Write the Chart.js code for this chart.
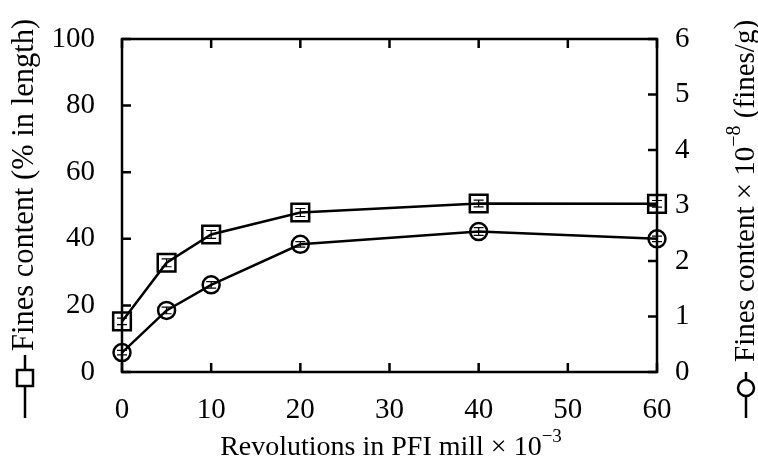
<!DOCTYPE html>
<html>
<head>
<meta charset="utf-8">
<script src="https://cdn.jsdelivr.net/npm/chart.js@4.4.1/dist/chart.umd.min.js"></script>
<style>
html,body{margin:0;padding:0;background:#fff;}
#wrap{width:758px;height:465px;position:relative;}
</style>
</head>
<body>
<div id="wrap"><canvas id="c" width="758" height="465"></canvas></div>
<script>
// Data
const revolutions = [0, 5, 10, 20, 40, 60];
const finesPercent = [15.2, 32.8, 41.3, 47.9, 50.6, 50.5];
const finesPercentErr = [1.0, 1.2, 1.2, 1.2, 1.0, 1.0];
const finesPerGram = [0.35, 1.11, 1.57, 2.30, 2.53, 2.40];
const finesPerGramErr = [0.04, 0.06, 0.06, 0.05, 0.07, 0.05];
const xTicks = [0, 10, 20, 30, 40, 50, 60];
const yLeftTicks = [0, 20, 40, 60, 80, 100];
const yRightTicks = [0, 1, 2, 3, 4, 5, 6];

const FONT = "'Liberation Serif', 'Times New Roman', serif";

const framePlugin = {
  id: 'frame',
  afterDatasetsDraw(chart) {
    const ctx = chart.ctx, a = chart.chartArea;
    const sx = chart.scales.x, sy = chart.scales.y, sy2 = chart.scales.y2;
    ctx.save();
    ctx.strokeStyle = '#000';
    ctx.lineWidth = 2.5;
    ctx.strokeRect(a.left, a.top, a.right - a.left, a.bottom - a.top);
    const L = 9;
    ctx.beginPath();
    xTicks.forEach(v => {
      const px = sx.getPixelForValue(v);
      ctx.moveTo(px, a.bottom); ctx.lineTo(px, a.bottom - L);
      ctx.moveTo(px, a.top); ctx.lineTo(px, a.top + L);
    });
    yLeftTicks.forEach(v => {
      const py = sy.getPixelForValue(v);
      ctx.moveTo(a.left, py); ctx.lineTo(a.left + L, py);
    });
    yRightTicks.forEach(v => {
      const py = sy2.getPixelForValue(v);
      ctx.moveTo(a.right, py); ctx.lineTo(a.right - L, py);
    });
    ctx.stroke();

    // error bars
    ctx.lineWidth = 1.2;
    const drawErr = (vals, errs, scale) => {
      vals.forEach((v, i) => {
        const px = sx.getPixelForValue(revolutions[i]);
        const t = scale.getPixelForValue(v + errs[i]);
        const b = scale.getPixelForValue(v - errs[i]);
        ctx.beginPath();
        ctx.moveTo(px, t); ctx.lineTo(px, b);
        ctx.moveTo(px - 5, t); ctx.lineTo(px + 5, t);
        ctx.moveTo(px - 5, b); ctx.lineTo(px + 5, b);
        ctx.stroke();
      });
    };
    drawErr(finesPercent, finesPercentErr, sy);
    drawErr(finesPerGram, finesPerGramErr, sy2);
    ctx.restore();
  },
  afterDraw(chart) {
    const ctx = chart.ctx, a = chart.chartArea;
    ctx.save();
    ctx.fillStyle = '#000';
    ctx.strokeStyle = '#000';
    ctx.lineWidth = 2.5;
    ctx.textBaseline = 'middle';
    // Left title
    ctx.save();
    ctx.translate(25, 0);
    ctx.beginPath(); ctx.moveTo(0, 355); ctx.lineTo(0, 418); ctx.stroke();
    ctx.fillStyle = '#fff';
    ctx.fillRect(-8, 370, 16, 16);
    ctx.strokeRect(-8, 370, 16, 16);
    ctx.fillStyle = '#000';
    ctx.translate(0, 351);
    ctx.rotate(-Math.PI / 2);
    ctx.font = '30.5px ' + FONT;
    ctx.textAlign = 'left';
    ctx.fillText('Fines content (% in length)', 0, 0);
    ctx.restore();

    // Right title
    ctx.save();
    ctx.translate(746, 0);
    ctx.beginPath(); ctx.moveTo(0, 372); ctx.lineTo(0, 418); ctx.stroke();
    ctx.beginPath(); ctx.arc(0, 388, 8, 0, Math.PI * 2); ctx.fillStyle = '#fff'; ctx.fill(); ctx.stroke();
    ctx.fillStyle = '#000';
    ctx.translate(0, 362);
    ctx.rotate(-Math.PI / 2);
    ctx.textAlign = 'left';
    ctx.font = '29px ' + FONT;
    let t1 = 'Fines content \u00d7 10';
    ctx.fillText(t1, 0, 0);
    let w = ctx.measureText(t1).width;
    ctx.font = '20px ' + FONT;
    ctx.fillText('\u22128', w, -11);
    w += ctx.measureText('\u22128').width;
    ctx.font = '29px ' + FONT;
    ctx.fillText(' (fines/g)', w, 0);
    ctx.restore();

    // X title
    ctx.save();
    const xt = 'Revolutions in PFI mill \u00d7 10';
    ctx.font = '19px ' + FONT;
    const sw = ctx.measureText('\u22123').width;
    ctx.font = '28px ' + FONT;
    const mw = ctx.measureText(xt).width;
    const total = mw + sw;
    const x0 = 391 - total / 2;
    ctx.textAlign = 'left';
    ctx.fillText(xt, x0, 448);
    ctx.font = '19px ' + FONT;
    ctx.fillText('\u22123', x0 + mw, 437);
    ctx.restore();
    ctx.restore();
  }
};

function noPad(s) { s.paddingTop = 0; s.paddingBottom = 0; s.paddingLeft = 0; s.paddingRight = 0; }

new Chart(document.getElementById('c'), {
  type: 'line',
  data: {
    datasets: [
      {
        label: 'Fines content (% in length)',
        data: revolutions.map((x, i) => ({x: x, y: finesPercent[i]})),
        yAxisID: 'y',
        borderColor: '#000',
        backgroundColor: 'rgba(0,0,0,0)',
        borderWidth: 2.5,
        pointStyle: 'rect',
        pointRadius: 12.5,
        pointBorderWidth: 2.5,
        pointBorderColor: '#000',
        pointBackgroundColor: 'rgba(0,0,0,0)',
        tension: 0,
        clip: false
      },
      {
        label: 'Fines content x 10^-8 (fines/g)',
        data: revolutions.map((x, i) => ({x: x, y: finesPerGram[i]})),
        yAxisID: 'y2',
        borderColor: '#000',
        backgroundColor: 'rgba(0,0,0,0)',
        borderWidth: 2.5,
        pointStyle: 'circle',
        pointRadius: 8.5,
        pointBorderWidth: 2.5,
        pointBorderColor: '#000',
        pointBackgroundColor: 'rgba(0,0,0,0)',
        tension: 0,
        clip: false
      }
    ]
  },
  options: {
    responsive: false,
    animation: false,
    devicePixelRatio: 1,
    layout: {padding: {top: 39, left: 0, right: 0, bottom: 0}},
    plugins: {legend: {display: false}, tooltip: {enabled: false}},
    scales: {
      x: {
        type: 'linear', min: 0, max: 60,
        afterBuildTicks(s) { s.ticks = xTicks.map(v => ({value: v})); },
        afterFit(s) { s.height = 93; noPad(s); },
        grid: {display: false, drawTicks: false},
        border: {display: false},
        ticks: {color: '#000', padding: 21, font: {family: FONT, size: 29}, maxRotation: 0}
      },
      y: {
        type: 'linear', position: 'left', min: 0, max: 100,
        afterBuildTicks(s) { s.ticks = yLeftTicks.map(v => ({value: v})); },
        afterFit(s) { s.width = 122; noPad(s); },
        grid: {display: false, drawTicks: false},
        border: {display: false},
        ticks: {color: '#000', padding: 27, font: {family: FONT, size: 29}}
      },
      y2: {
        type: 'linear', position: 'right', min: 0, max: 6,
        afterBuildTicks(s) { s.ticks = yRightTicks.map(v => ({value: v})); },
        afterFit(s) { s.width = 101; noPad(s); },
        grid: {display: false, drawTicks: false},
        border: {display: false},
        ticks: {color: '#000', padding: 18, font: {family: FONT, size: 29}}
      }
    }
  },
  plugins: [framePlugin]
});
</script>
</body>
</html>
